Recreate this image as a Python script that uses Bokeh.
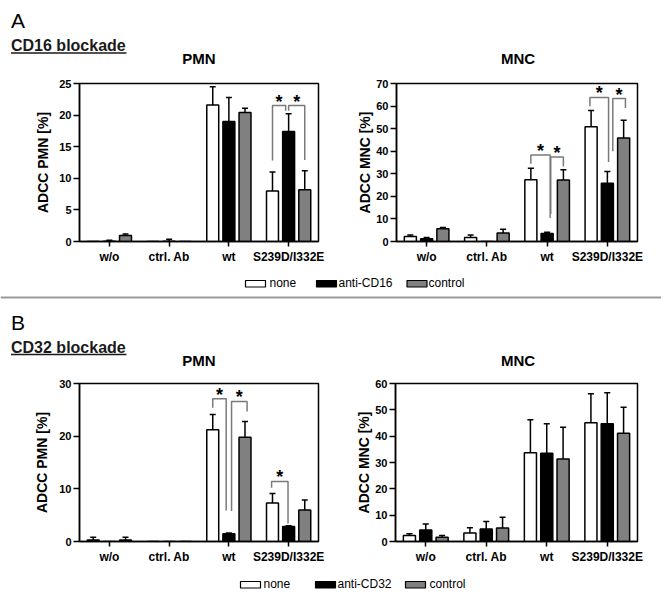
from bokeh.plotting import figure
from bokeh.layouts import column, row
from bokeh.models import Range1d, FixedTicker
from bokeh.embed import file_html
from bokeh.resources import INLINE
from bokeh.core.properties import value

FONT = "Liberation Sans"

# ---------------- data ----------------
categories = ["w/o", "ctrl. Ab", "wt", "S239D/I332E"]
series_a = ["none", "anti-CD16", "control"]
series_b = ["none", "anti-CD32", "control"]
fills = ["white", "black", "#808080"]

# A: CD16 blockade, PMN
a_pmn_none = [0.0, 0.0, 21.6, 8.0]
a_pmn_none_err = [0.0, 0.0, 2.9, 3.0]
a_pmn_anti = [0.05, 0.05, 19.0, 17.4]
a_pmn_anti_err = [0.15, 0.3, 3.8, 2.8]
a_pmn_ctrl = [0.95, 0.0, 20.4, 8.2]
a_pmn_ctrl_err = [0.25, 0.0, 0.7, 3.0]

# A: CD16 blockade, MNC
a_mnc_none = [2.2, 1.8, 27.4, 50.8]
a_mnc_none_err = [0.7, 1.1, 5.0, 7.2]
a_mnc_anti = [1.2, 0.0, 3.5, 25.8]
a_mnc_anti_err = [0.6, 0.0, 0.6, 5.2]
a_mnc_ctrl = [5.6, 3.8, 27.2, 45.9]
a_mnc_ctrl_err = [0.6, 1.6, 4.6, 7.8]

# B: CD32 blockade, PMN
b_pmn_none = [0.3, 0.0, 21.2, 7.3]
b_pmn_none_err = [0.5, 0.0, 2.9, 1.8]
b_pmn_anti = [0.0, 0.0, 1.45, 2.85]
b_pmn_anti_err = [0.0, 0.0, 0.15, 0.15]
b_pmn_ctrl = [0.3, 0.0, 19.8, 6.0]
b_pmn_ctrl_err = [0.5, 0.0, 3.0, 1.9]

# B: CD32 blockade, MNC
b_mnc_none = [2.3, 3.2, 33.7, 45.1]
b_mnc_none_err = [0.6, 2.0, 12.5, 11.0]
b_mnc_anti = [4.4, 4.7, 33.5, 44.7]
b_mnc_anti_err = [2.2, 2.9, 11.2, 11.8]
b_mnc_ctrl = [1.6, 5.1, 31.3, 41.1]
b_mnc_ctrl_err = [0.7, 4.1, 12.1, 9.9]

# significance brackets: (group, left series, left nudge, right series, right nudge,
#                         bracket height, left leg end, right leg end)
a_pmn_brackets = [(3, 0, 0.0, 1, -0.1, 21.5, 12.8, 20.7),
                  (3, 1, 0.0, 2, 0.0, 21.5, 20.7, 12.9)]
a_mnc_brackets = [(2, 0, 0.0, 1, 0.1, 38.3, 34.5, 10.4),
                  (2, 1, 0.12, 2, 0.0, 37.4, 12.2, 33.2),
                  (3, 0, -0.04, 1, 0.04, 63.8, 59.9, 35.2),
                  (3, 1, 0.18, 2, 0.06, 63.3, 40.0, 59.1)]
b_pmn_brackets = [(2, 0, 0.0, 1, -0.09, 27.1, 25.4, 5.9),
                  (2, 1, 0.09, 2, 0.07, 26.6, 5.8, 24.7),
                  (3, 0, -0.03, 1, -0.02, 11.4, 10.2, 3.4)]
b_mnc_brackets = []

# ---------------- layout constants ----------------
CENTERS = [1, 3, 5, 7]          # group centres on an x range of 0..8
OFFSETS = [-0.54, 0.0, 0.54]
BAR_W = 0.4
CAP = 0.1
SHIFT = 5                       # text glyph baseline correction (px)


def bar_panel(vals, errs, ymax, ystep, ylabel, width, mb_left, mb_right, brackets, lab_standoff):
    p = figure(width=width, height=200, x_range=Range1d(0, 8), y_range=Range1d(0, ymax),
               output_backend="svg", toolbar_location=None, title=None,
               min_border_left=mb_left, min_border_right=mb_right,
               min_border_top=13, min_border_bottom=29)
    p.xgrid.visible = False
    p.ygrid.visible = False
    p.outline_line_color = "black"
    p.outline_line_width = 1.5
    p.outline_line_alpha = 1.0
    p.background_fill_color = "white"
    p.border_fill_color = "white"

    for k, (v, e) in enumerate(zip(vals, errs)):
        xs = [c + OFFSETS[k] for c in CENTERS]
        p.vbar(x=xs, top=v, width=BAR_W, bottom=0, fill_color=fills[k],
               line_color="black", line_width=1.5)
        ex = [x for x, ee in zip(xs, e) if ee > 0]
        ev = [vv for vv, ee in zip(v, e) if ee > 0]
        et = [vv + ee for vv, ee in zip(v, e) if ee > 0]
        if ex:
            p.segment(x0=ex, y0=ev, x1=ex, y1=et, line_color="black", line_width=1.5)
            p.segment(x0=[x - CAP for x in ex], y0=et, x1=[x + CAP for x in ex], y1=et,
                      line_color="black", line_width=1.5)

    bxs, bys, sx, sy = [], [], [], []
    for g, s1, n1, s2, n2, top, lb, rb in brackets:
        xl = CENTERS[g] + OFFSETS[s1] + n1
        xr = CENTERS[g] + OFFSETS[s2] + n2
        bxs.append([xl, xl, xr, xr])
        bys.append([lb, top, top, rb])
        sx.append((xl + xr) / 2)
        sy.append(top)
    if bxs:
        p.multi_line(xs=bxs, ys=bys, line_color="#7a7a7a", line_width=1.5)
        p.text(x=sx, y=sy, text=["*"] * len(sx), text_font=value(FONT),
               text_font_size="18px", text_font_style="bold", text_color="black",
               text_align="center", text_baseline="alphabetic", y_offset=-4)

    for ax in (p.xaxis[0], p.yaxis[0]):
        ax.axis_line_width = 1.5
        ax.axis_line_color = "black"
        ax.major_tick_line_width = 1.5
        ax.major_tick_line_color = "black"
        ax.major_tick_in = 0
        ax.minor_tick_line_color = None
        ax.major_label_text_font = FONT
        ax.major_label_text_font_style = "bold"
        ax.major_label_text_color = "black"

    p.xaxis.ticker = FixedTicker(ticks=CENTERS)
    p.xaxis.major_label_overrides = {c: lab for c, lab in zip(CENTERS, categories)}
    p.xaxis.major_tick_out = 5
    p.xaxis.major_label_standoff = 3
    p.xaxis.major_label_text_font_size = "12px"

    p.yaxis.ticker = FixedTicker(ticks=list(range(0, ymax + 1, ystep)))
    p.yaxis.major_tick_out = 6
    p.yaxis.major_label_standoff = 2
    p.yaxis.major_label_text_font_size = "11px"
    p.yaxis.axis_label = ylabel
    p.yaxis.axis_label_text_font = FONT
    p.yaxis.axis_label_text_font_size = "14px"
    p.yaxis.axis_label_text_font_style = "bold"
    p.yaxis.axis_label_text_color = "black"
    p.yaxis.axis_label_standoff = lab_standoff
    return p


def strip(width, height):
    s = figure(width=width, height=height, x_range=Range1d(0, width), y_range=Range1d(height, 0),
               output_backend="svg", toolbar_location=None, title=None,
               x_axis_type=None, y_axis_type=None, min_border=0)
    s.xgrid.visible = False
    s.ygrid.visible = False
    s.outline_line_color = None
    s.background_fill_color = "white"
    s.border_fill_color = "white"
    return s


def header(height, letter, letter_base, heading, heading_base, under_y, title_base):
    h = strip(661, height)
    h.text(x=[10.5], y=[letter_base - SHIFT], text=[letter], text_font=value(FONT),
           text_font_size="21px", text_color="black", text_baseline="alphabetic")
    h.text(x=[10.5], y=[heading_base - SHIFT], text=[heading], text_font=value(FONT),
           text_font_size="16px", text_font_style="bold", text_color="#1a1a1a",
           text_baseline="alphabetic")
    h.segment(x0=[10.5], y0=[under_y], x1=[126], y1=[under_y], line_color="#1a1a1a",
              line_width=1.5)
    h.text(x=[198.5, 517.5], y=[title_base - SHIFT] * 2, text=["PMN", "MNC"],
           text_font=value(FONT), text_font_size="15px", text_font_style="bold",
           text_color="black", text_align="center", text_baseline="alphabetic")
    return h


def legend_strip(height, labels, box_left, text_left, box_top, box_bot, text_base, sep_y=None):
    s = strip(661, height)
    s.quad(left=box_left, right=[b + 20 for b in box_left], top=[box_top] * 3,
           bottom=[box_bot] * 3, fill_color=fills, line_color="black", line_width=1.2)
    s.text(x=text_left, y=[text_base - SHIFT] * 3, text=labels, text_font=value(FONT),
           text_font_size="12px", text_color="black", text_baseline="alphabetic")
    if sep_y is not None:
        s.segment(x0=[0], y0=[sep_y], x1=[661], y1=[sep_y], line_color="#9a9a9a",
                  line_width=2)
    return s


pa1 = bar_panel([a_pmn_none, a_pmn_anti, a_pmn_ctrl],
                [a_pmn_none_err, a_pmn_anti_err, a_pmn_ctrl_err],
                25, 5, "ADCC PMN [%]", 325, 79, 7, a_pmn_brackets, 5)
pa2 = bar_panel([a_mnc_none, a_mnc_anti, a_mnc_ctrl],
                [a_mnc_none_err, a_mnc_anti_err, a_mnc_ctrl_err],
                70, 10, "ADCC MNC [%]", 336, 71, 24, a_mnc_brackets, 0)
pb1 = bar_panel([b_pmn_none, b_pmn_anti, b_pmn_ctrl],
                [b_pmn_none_err, b_pmn_anti_err, b_pmn_ctrl_err],
                30, 10, "ADCC PMN [%]", 325, 79, 7, b_pmn_brackets, 6)
pb2 = bar_panel([b_mnc_none, b_mnc_anti, b_mnc_ctrl],
                [b_mnc_none_err, b_mnc_anti_err, b_mnc_ctrl_err],
                60, 10, "ADCC MNC [%]", 336, 70, 24, b_mnc_brackets, 0)

ha = header(70, "A", 25, "CD16 blockade", 50, 52.5, 63)
hb = header(67, "B", 24, "CD32 blockade", 48.5, 51, 62)

la = legend_strip(33, series_a, [245, 316, 406.5], [269, 338, 428], 10, 16.5, 17.5, sep_y=27)
lb = legend_strip(29, series_b, [240, 315, 405], [263, 337, 429], 11, 17.5, 18.5)

layout = column(ha, row(pa1, pa2), la, hb, row(pb1, pb2), lb)

open("out.html", "w").write(file_html(layout, INLINE))
